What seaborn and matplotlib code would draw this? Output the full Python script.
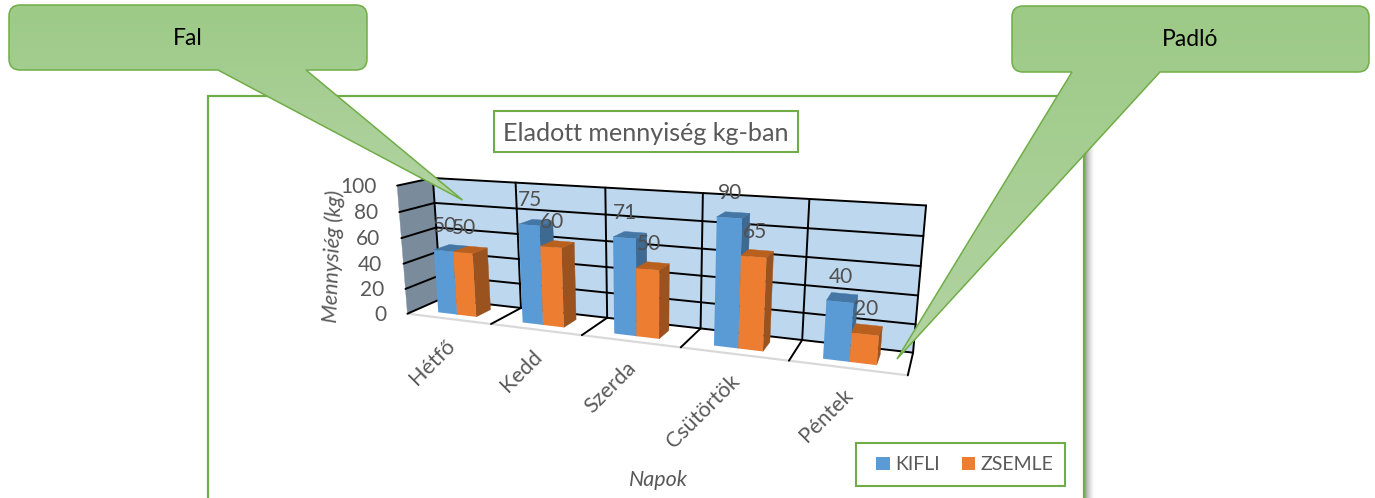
import numpy as np
import pandas as pd
import seaborn as sns
import matplotlib.pyplot as plt
from matplotlib.patches import Polygon, PathPatch, Rectangle
from matplotlib.path import Path
from matplotlib.transforms import Transform

#data
napok = ['Hétfő', 'Kedd', 'Szerda', 'Csütörtök', 'Péntek']
kifli = [50, 75, 71, 90, 40]
zsemle = [50, 60, 50, 65, 20]
value_ticks = [0, 20, 40, 60, 80, 100]

#colors
GREEN = '#70AD47'
TEXT = '#595959'
BLUE, BLUE_TOP, BLUE_SIDE = '#5B9BD5', '#4477A6', '#3E6A92'
ORANGE, ORANGE_TOP, ORANGE_SIDE = '#ED7D31', '#B9601F', '#9A521E'

sns.set_theme(style='white')
plt.rcParams['font.family'] = ['Lato', 'DejaVu Sans']

#camera fit : (category edge, value, depth) -> pixel, depth 0 = front, 1 = back wall
cam_world = [(0, 0, 1), (1, 0, 1), (2, 0, 1), (3, 0, 1), (4, 0, 1), (5, 0, 1),
             (0, 100, 1), (5, 100, 1),
             (0, 0, 0), (1, 0, 0), (2, 0, 0), (3, 0, 0), (4, 0, 0), (5, 0, 0),
             (0, 100, 0)]
cam_pixel = [(439, 301), (522, 307), (608, 317), (700, 327), (802, 341), (913, 353),
             (434, 178), (926, 205),
             (408, 313), (492, 324), (582, 334), (680, 348), (789, 361), (908, 376),
             (396, 186)]

rows, rhs = [], []
for (a, b, c), (px, py) in zip(cam_world, cam_pixel):
    rows.append([a, b, c, 1, 0, 0, 0, 0, -px * a, -px * b, -px * c])
    rows.append([0, 0, 0, 0, a, b, c, 1, -py * a, -py * b, -py * c])
    rhs += [px, py]
coef = np.linalg.lstsq(np.array(rows, float), np.array(rhs, float), rcond=None)[0]
CAM = np.append(coef, 1.0).reshape(3, 4)


def project(u, v, d):
    h = CAM @ np.array([u, v, d, 1.0])
    return h[0] / h[2], h[1] / h[2]


class FrontFace(Transform):
    # seaborn bar coords (x position, kg) -> pixel on the front plane of the bars
    input_dims = 2
    output_dims = 2
    is_separable = False
    has_inverse = False

    def __init__(self, plane):
        super().__init__()
        self.plane = plane

    def transform_non_affine(self, values):
        values = np.asarray(values, float)
        return np.array([project(x + 0.5, y, self.plane) for x, y in values])


def face(ax, pts, color, z):
    ax.add_patch(Polygon([project(*p) for p in pts], closed=True, facecolor=color,
                         edgecolor=color, lw=0.3, zorder=z))


def grid_line(ax, a, b, color='black', lw=1.4, z=3):
    xa, ya = project(*a)
    xb, yb = project(*b)
    ax.plot([xa, xb], [ya, yb], color=color, lw=lw, zorder=z, solid_capstyle='round')


def callout(ax, box, base, tip, label):
    x0, y0, x1, y1 = box
    r = 11
    verts = [(x0 + r, y0), (x1 - r, y0), (x1, y0), (x1, y0 + r), (x1, y1 - r), (x1, y1), (x1 - r, y1),
             (base[1], y1), tip, (base[0], y1), (x0 + r, y1), (x0, y1), (x0, y1 - r),
             (x0, y0 + r), (x0, y0), (x0 + r, y0), (x0 + r, y0)]
    codes = [Path.MOVETO, Path.LINETO, Path.CURVE3, Path.CURVE3, Path.LINETO, Path.CURVE3, Path.CURVE3,
             Path.LINETO, Path.LINETO, Path.LINETO, Path.LINETO, Path.CURVE3, Path.CURVE3,
             Path.LINETO, Path.CURVE3, Path.CURVE3, Path.CLOSEPOLY]
    shape = PathPatch(Path(verts, codes), facecolor='none', edgecolor=GREEN, lw=1.1, zorder=31)
    ax.add_patch(shape)
    # vertical gradient, darker on top
    top = np.array([157, 202, 135]) / 255
    bottom = np.array([178, 211, 162]) / 255
    t = np.linspace(0, 1, 200)[:, None, None]
    grad = top[None, None, :] * (1 - t) + bottom[None, None, :] * t
    img = ax.imshow(grad, extent=(min(x0, tip[0]), max(x1, tip[0]), tip[1], y0), aspect='auto', zorder=30)
    img.set_clip_path(Path(verts, codes), ax.transData)
    ax.text((x0 + x1) / 2, (y0 + y1) / 2 + 0.5, label, color='black', fontsize=16.5,
            ha='center', va='center', zorder=32)


fig = plt.figure(figsize=(13.75, 4.98), dpi=100)
ax = fig.add_axes([0, 0, 1, 1])

df = pd.DataFrame({'nap': napok * 2,
                   'kg': kifli + zsemle,
                   'termek': ['KIFLI'] * 5 + ['ZSEMLE'] * 5})
sns.barplot(data=df, x='nap', y='kg', hue='termek', palette=[BLUE, ORANGE], saturation=1,
            width=0.46, gap=0, linewidth=0, ax=ax)
ax.get_legend().remove()

#from here the axes are the picture in pixels, bars go through the camera
ax.set_xlim(0, 1375)
ax.set_ylim(498, 0)
ax.axis('off')

#chart area with shadow on the right
for i in range(10):
    ax.add_patch(Rectangle((1085 + i, 150 - i), 1.2, 360, facecolor='black', alpha=0.36 * (1 - i / 10) ** 1.6,
                           lw=0, zorder=0.5))
ax.add_patch(Rectangle((208, 96), 876, 420, facecolor='white', edgecolor=GREEN, lw=1.6, zorder=1))

#walls and floor
face(ax, [(0, 0, 1), (5, 0, 1), (5, 100, 1), (0, 100, 1)], '#BDD7EE', 2)
face(ax, [(0, 0, 0), (0, 0, 1), (0, 100, 1), (0, 100, 0)], '#7A8B9C', 2)
for v in value_ticks:
    grid_line(ax, (0, v, 1), (5, v, 1))
    grid_line(ax, (0, v, 0), (0, v, 1))
for i in range(6):
    grid_line(ax, (i, 0, 1), (i, 100, 1))
    if i > 0:
        grid_line(ax, (i, 0, 0), (i, 0, 1))
grid_line(ax, (0, 0, 0), (5, 0, 0), color='#D9D9D9', lw=1.6, z=2.5)

#bars, left to right so each front covers the side of the bar before it
D_FRONT, D_BACK = 0.26, 0.72
shades = [(BLUE_TOP, BLUE_SIDE), (ORANGE_TOP, ORANGE_SIDE)]
front = FrontFace(D_FRONT) + ax.transData
for c, (container, (top_col, side_col)) in enumerate(zip(ax.containers, shades)):
    for i, bar in enumerate(container):
        x0, x1 = bar.get_x() + 0.5, bar.get_x() + bar.get_width() + 0.5
        h = bar.get_height()
        z = 5 + i * 2 + c * 0.5
        face(ax, [(x1, 0, D_FRONT), (x1, 0, D_BACK), (x1, h, D_BACK), (x1, h, D_FRONT)], side_col, z)
        face(ax, [(x0, h, D_FRONT), (x1, h, D_FRONT), (x1, h, D_BACK), (x0, h, D_BACK)], top_col, z)
        bar.set_transform(front)
        bar.set_zorder(z + 0.1)
        px, py = project((x0 + x1) / 2, h, D_FRONT)
        ax.text(px + 1, py - 25, f'{h:.0f}', color='#505050', fontsize=15, ha='center', va='center', zorder=20)

#value axis
for v in value_ticks:
    px, py = project(0, v, 0)
    ax.text(px - 21, py + 1, str(v), color=TEXT, fontsize=15, ha='right', va='center', zorder=20)

#category labels
for i, nap in enumerate(napok):
    px, py = project(i + 0.5, 0, 0)
    ax.text(px + 3, py + 24, nap, color=TEXT, fontsize=15.5, rotation=45, rotation_mode='anchor',
            ha='right', va='center', zorder=20)

ax.text(333, 256, 'Mennysiég (kg)', color=TEXT, fontsize=15.5, style='italic', rotation=88,
        ha='center', va='center', zorder=20)
ax.text(658, 480, 'Napok', color=TEXT, fontsize=15.5, style='italic', ha='center', va='center', zorder=20)

#title box
ax.add_patch(Rectangle((494, 111), 304, 41, facecolor='white', edgecolor=GREEN, lw=1.5, zorder=20))
ax.text(646, 133, 'Eladott mennyiség kg-ban', color=TEXT, fontsize=18.1, ha='center', va='center', zorder=21)

#legend, box on its own because the padding is not even left and right
ax.add_patch(Rectangle((856, 443), 209, 43, facecolor='white', edgecolor=GREEN, lw=1.5, zorder=20))
handles = [ax.containers[0][0], ax.containers[1][0]]
leg = ax.legend(handles, ['KIFLI', 'ZSEMLE'], ncols=2, loc='center', bbox_to_anchor=(965, 464.5),
                bbox_transform=ax.transData, fontsize=14, labelcolor=TEXT, frameon=False,
                handlelength=0.68, handleheight=0.68, handletextpad=0.3,
                columnspacing=1.1, borderpad=0, borderaxespad=0)
leg.set_zorder(25)

#callouts
callout(ax, (9, 5, 367, 70), (218, 306), (462.5, 200), 'Fal')
callout(ax, (1012, 6, 1369, 72), (1072, 1160), (897, 359), 'Padló')

ax.set_xlim(0, 1375)
ax.set_ylim(498, 0)

fig.savefig('out.png', dpi=100)
